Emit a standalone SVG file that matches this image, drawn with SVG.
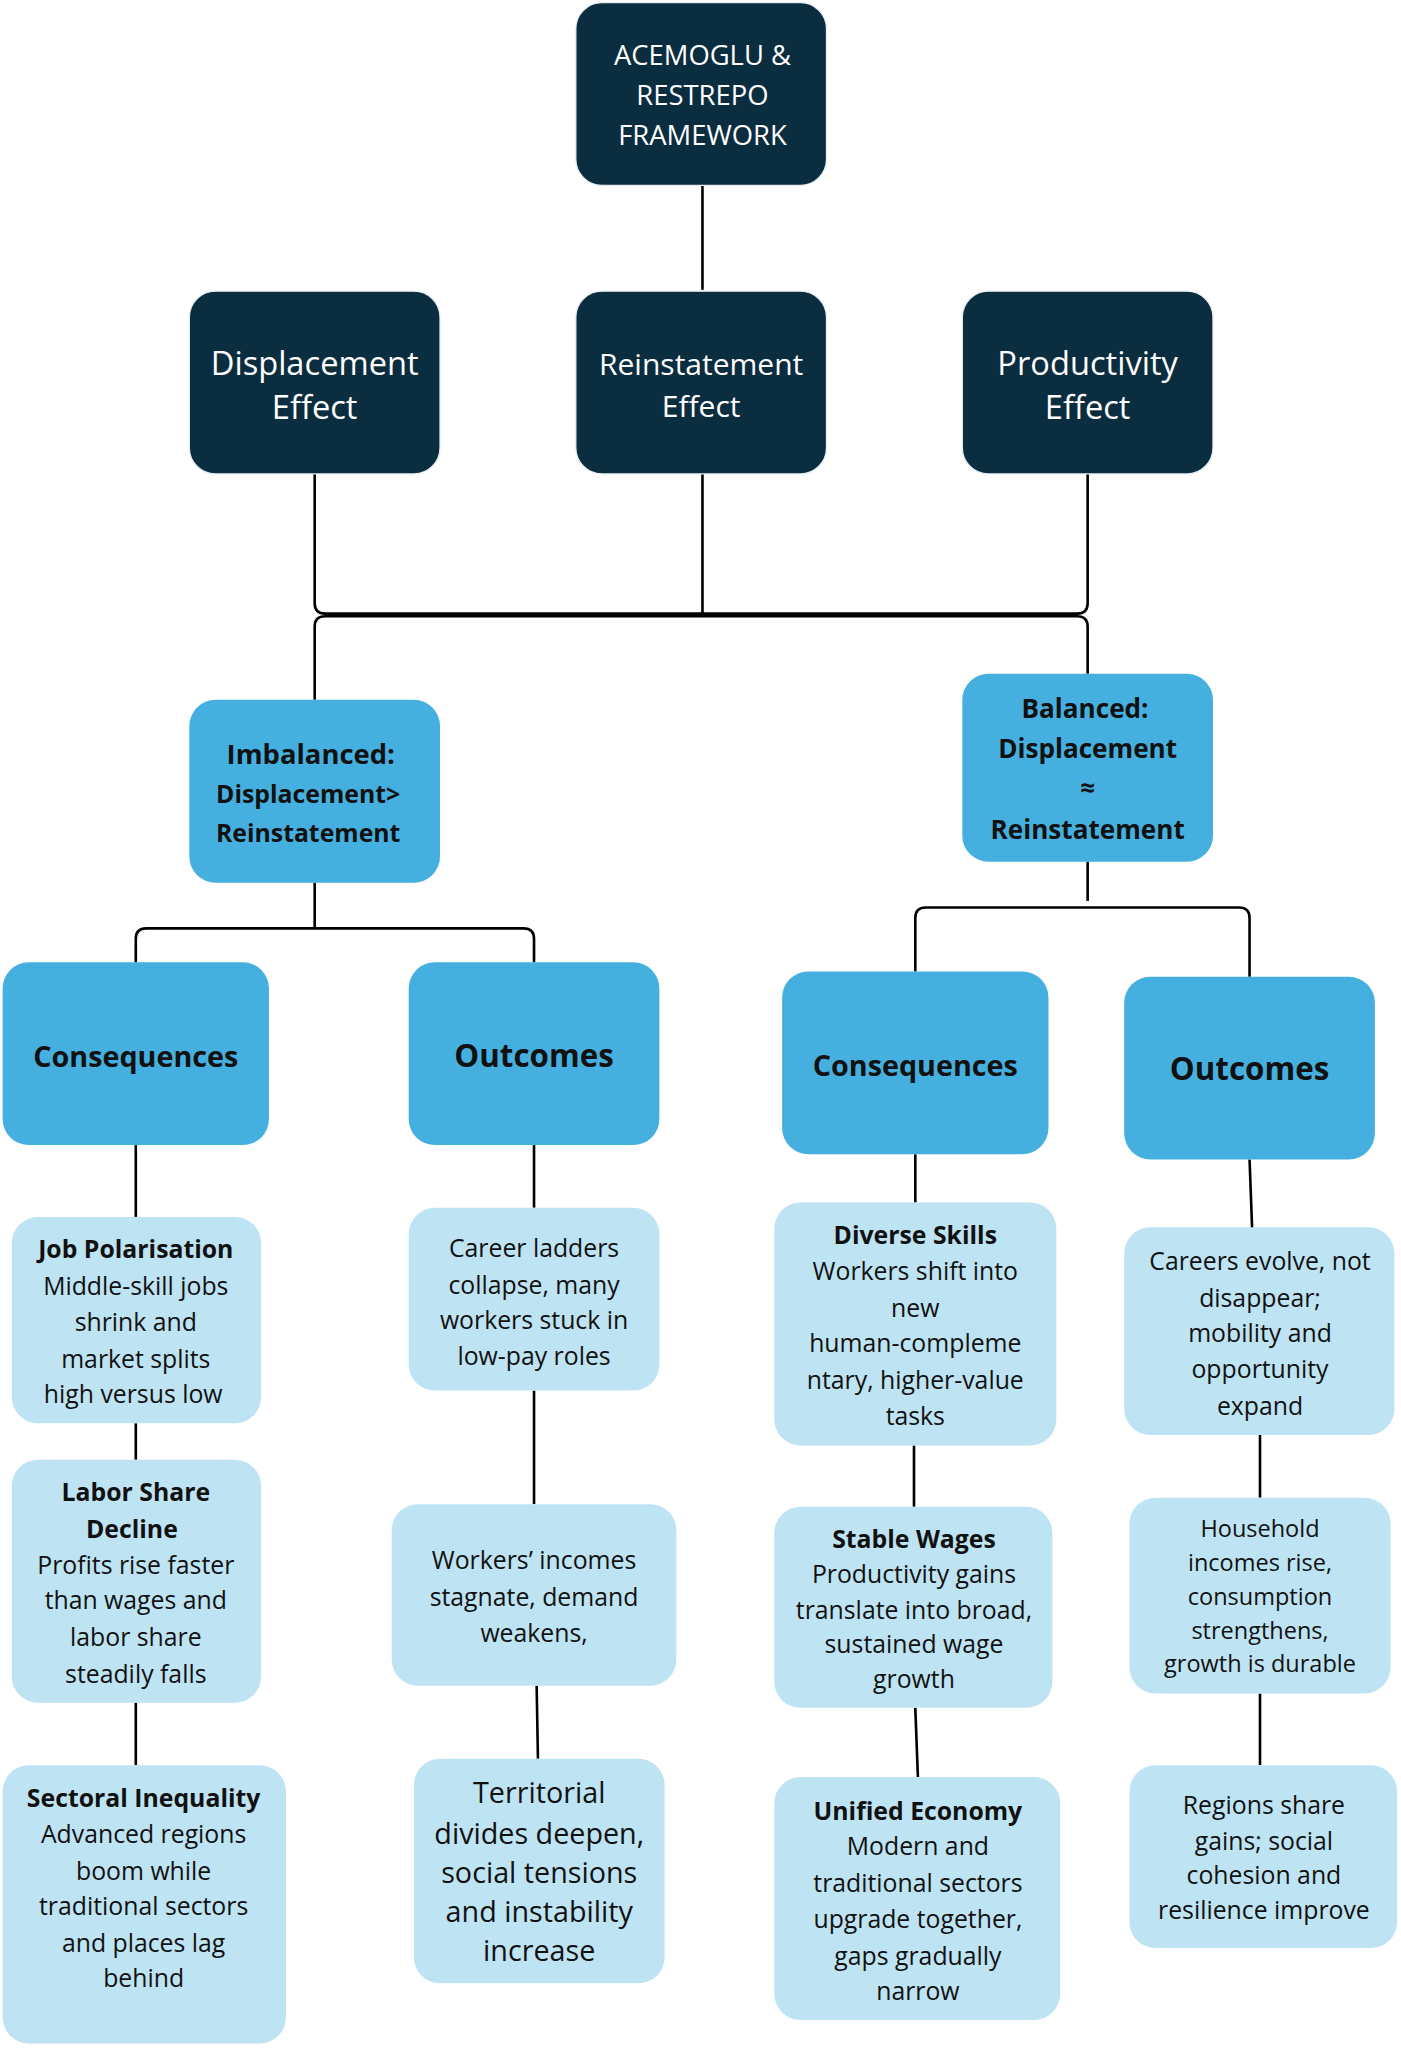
<svg xmlns="http://www.w3.org/2000/svg" width="1401" height="2048" viewBox="0 0 1401 2048">
<style>
.d{fill:#0B2D40;stroke:#E8EEF2;stroke-width:1}
.m{fill:#45B0E0}
.l{fill:#BEE3F3}
text{font-family:"Open Sans","Liberation Sans",sans-serif;text-anchor:middle;dominant-baseline:central}
.w{fill:#FFFFFF}
.k{fill:#111111}
.b{font-weight:bold}
.c path,.c line{stroke:#000;stroke-width:2;fill:none}
</style>
<rect width="1401" height="2048" fill="#fff"/>
<g transform="scale(1.3057)">
<g class="c" id="connectors">
<line x1="538" y1="142" x2="538" y2="222"/>
<path d="M241 363 V462 Q241 470 249 470 H825 Q833 470 833 462 V363"/>
<line x1="538" y1="363" x2="538" y2="470"/>
<path d="M241 536 V480 Q241 472 249 472 H825 Q833 472 833 480 V516"/>
<line x1="241" y1="676" x2="241" y2="711"/>
<path d="M104 737 V719 Q104 711 112 711 H401 Q409 711 409 719 V737"/>
<line x1="833" y1="660" x2="833" y2="690"/>
<path d="M701 744 V703 Q701 695 709 695 H949 Q957 695 957 703 V748"/>
<line x1="104" y1="877" x2="104" y2="932"/>
<line x1="409" y1="877" x2="409" y2="925"/>
<line x1="701" y1="884" x2="701" y2="921"/>
<line x1="957" y1="888" x2="959" y2="942"/>
<line x1="104" y1="1090" x2="104" y2="1118"/>
<line x1="104" y1="1304" x2="104" y2="1352"/>
<line x1="409" y1="1065" x2="409" y2="1152"/>
<line x1="411" y1="1291" x2="412" y2="1347"/>
<line x1="700" y1="1107" x2="700" y2="1154"/>
<line x1="701" y1="1308" x2="703" y2="1361"/>
<line x1="965" y1="1099" x2="965" y2="1147"/>
<line x1="965" y1="1297" x2="965" y2="1352"/>
</g>
<g id="top"><rect class="d" x="441" y="2" width="192" height="140" rx="20"/>
<text class="w" font-size="21"><tspan x="538" y="41">ACEMOGLU &amp;</tspan><tspan x="538" y="72">RESTREPO</tspan><tspan x="538" y="103">FRAMEWORK</tspan></text></g>
<g id="disp"><rect class="d" x="145" y="223" width="192" height="140" rx="20"/>
<text class="w" font-size="25"><tspan x="241" y="277">Displacement</tspan><tspan x="241" y="311">Effect</tspan></text></g>
<g id="rein"><rect class="d" x="441" y="223" width="192" height="140" rx="20"/>
<text class="w" font-size="23"><tspan x="537" y="278">Reinstatement</tspan><tspan x="537" y="310">Effect</tspan></text></g>
<g id="prod"><rect class="d" x="737" y="223" width="192" height="140" rx="20"/>
<text class="w" font-size="25"><tspan x="833" y="277">Productivity</tspan><tspan x="833" y="311">Effect</tspan></text></g>
<g id="imb"><rect class="m" x="145" y="536" width="192" height="140" rx="20"/>
<text class="k b"><tspan x="238" y="577" font-size="21">Imbalanced:</tspan><tspan x="236" y="607" font-size="19">Displacement&gt;</tspan><tspan x="236" y="637" font-size="19">Reinstatement</tspan></text></g>
<g id="bal"><rect class="m" x="737" y="516" width="192" height="144" rx="20"/>
<text class="k b" font-size="20"><tspan x="831" y="542">Balanced:</tspan><tspan x="833" y="573">Displacement</tspan><tspan x="833" y="603">≈</tspan><tspan x="833" y="635">Reinstatement</tspan></text></g>
<g id="cl"><rect class="m" x="2" y="737" width="204" height="140" rx="20"/><text class="k b" font-size="22" x="104" y="808">Consequences</text></g>
<g id="ol"><rect class="m" x="313" y="737" width="192" height="140" rx="20"/><text class="k b" font-size="24" x="409" y="808">Outcomes</text></g>
<g id="cr"><rect class="m" x="599" y="744" width="204" height="140" rx="20"/><text class="k b" font-size="22" x="701" y="815">Consequences</text></g>
<g id="or"><rect class="m" x="861" y="748" width="192" height="140" rx="20"/><text class="k b" font-size="24" x="957" y="818">Outcomes</text></g>
<g id="l1"><rect class="l" x="9" y="932" width="191" height="158" rx="20"/>
<text class="k" font-size="19"><tspan class="b" x="104" y="956">Job Polarisation</tspan><tspan x="104" y="984">Middle-skill jobs</tspan><tspan x="104" y="1012">shrink and</tspan><tspan x="104" y="1040">market splits</tspan><tspan x="102" y="1067">high versus low</tspan></text></g>
<g id="l2"><rect class="l" x="9" y="1118" width="191" height="186" rx="20"/>
<text class="k" font-size="19"><tspan class="b" x="104" y="1142">Labor Share</tspan><tspan class="b" x="101" y="1170">Decline</tspan><tspan x="104" y="1198">Profits rise faster</tspan><tspan x="104" y="1225">than wages and</tspan><tspan x="104" y="1253">labor share</tspan><tspan x="104" y="1281">steadily falls</tspan></text></g>
<g id="l3"><rect class="l" x="2" y="1352" width="217" height="213" rx="20"/>
<text class="k" font-size="19"><tspan class="b" x="110" y="1376">Sectoral Inequality</tspan><tspan x="110" y="1404">Advanced regions</tspan><tspan x="110" y="1432">boom while</tspan><tspan x="110" y="1459">traditional sectors</tspan><tspan x="110" y="1487">and places lag</tspan><tspan x="110" y="1514">behind</tspan></text></g>
<g id="m1"><rect class="l" x="313" y="925" width="192" height="140" rx="20"/>
<text class="k" font-size="19"><tspan x="409" y="955">Career ladders</tspan><tspan x="409" y="983">collapse, many</tspan><tspan x="409" y="1010">workers stuck in</tspan><tspan x="409" y="1038">low-pay roles</tspan></text></g>
<g id="m2"><rect class="l" x="300" y="1152" width="218" height="139" rx="20"/>
<text class="k" font-size="19"><tspan x="409" y="1194">Workers’ incomes</tspan><tspan x="409" y="1222">stagnate, demand</tspan><tspan x="409" y="1250">weakens,</tspan></text></g>
<g id="m3"><rect class="l" x="317" y="1347" width="192" height="172" rx="20"/>
<text class="k" font-size="22"><tspan x="413" y="1372">Territorial</tspan><tspan x="413" y="1403">divides deepen,</tspan><tspan x="413" y="1433">social tensions</tspan><tspan x="413" y="1463">and instability</tspan><tspan x="413" y="1493">increase</tspan></text></g>
<g id="r1"><rect class="l" x="593" y="921" width="216" height="186" rx="20"/>
<text class="k" font-size="19"><tspan class="b" x="701" y="945">Diverse Skills</tspan><tspan x="701" y="973">Workers shift into</tspan><tspan x="701" y="1001">new</tspan><tspan x="701" y="1028">human-compleme</tspan><tspan x="701" y="1056">ntary, higher-value</tspan><tspan x="701" y="1084">tasks</tspan></text></g>
<g id="r2"><rect class="l" x="593" y="1154" width="213" height="154" rx="20"/>
<text class="k" font-size="19"><tspan class="b" x="700" y="1178">Stable Wages</tspan><tspan x="700" y="1205">Productivity gains</tspan><tspan x="700" y="1232">translate into broad,</tspan><tspan x="700" y="1258">sustained wage</tspan><tspan x="700" y="1285">growth</tspan></text></g>
<g id="r3"><rect class="l" x="593" y="1361" width="219" height="186" rx="20"/>
<text class="k" font-size="19"><tspan class="b" x="703" y="1386">Unified Economy</tspan><tspan x="703" y="1413">Modern and</tspan><tspan x="703" y="1441">traditional sectors</tspan><tspan x="703" y="1469">upgrade together,</tspan><tspan x="703" y="1497">gaps gradually</tspan><tspan x="703" y="1524">narrow</tspan></text></g>
<g id="o1"><rect class="l" x="861" y="940" width="207" height="159" rx="20"/>
<text class="k" font-size="19"><tspan x="965" y="965">Careers evolve, not</tspan><tspan x="965" y="993">disappear;</tspan><tspan x="965" y="1020">mobility and</tspan><tspan x="965" y="1048">opportunity</tspan><tspan x="965" y="1076">expand</tspan></text></g>
<g id="o2"><rect class="l" x="865" y="1147" width="200" height="150" rx="20"/>
<text class="k" font-size="18"><tspan x="965" y="1170">Household</tspan><tspan x="965" y="1196">incomes rise,</tspan><tspan x="965" y="1222">consumption</tspan><tspan x="965" y="1248">strengthens,</tspan><tspan x="965" y="1274">growth is durable</tspan></text></g>
<g id="o3"><rect class="l" x="865" y="1352" width="205" height="140" rx="20"/>
<text class="k" font-size="19"><tspan x="968" y="1382">Regions share</tspan><tspan x="968" y="1409">gains; social</tspan><tspan x="968" y="1435">cohesion and</tspan><tspan x="968" y="1462">resilience improve</tspan></text></g>
</g>
</svg>
